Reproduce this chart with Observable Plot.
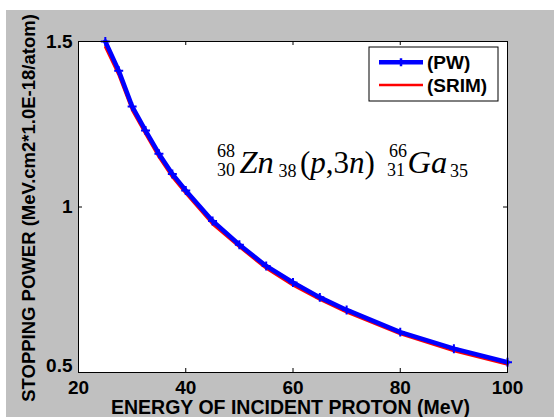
<!DOCTYPE html>
<html><head><meta charset="utf-8">
<script src="https://cdn.jsdelivr.net/npm/d3@7"></script>
<script src="https://cdn.jsdelivr.net/npm/@observablehq/plot@0.6"></script>
<style>
html,body{margin:0;padding:0;background:#fff;}
#wrap{padding:10px 0 0 6px;width:548px;height:407px;}
svg{display:block;}
</style></head><body><div id="wrap"></div>
<script>
// ---- data ----
const energy = [25, 27.5, 30, 32.5, 35, 37.5, 40, 45, 50, 55, 60, 65, 70, 80, 90, 100];
const pwValues = [1.500, 1.412, 1.304, 1.231, 1.161, 1.100, 1.050, 0.958, 0.886, 0.822, 0.772, 0.727, 0.689, 0.622, 0.572, 0.531];
const srimValues = [1.483, 1.398, 1.292, 1.220, 1.150, 1.090, 1.041, 0.948, 0.879, 0.814, 0.763, 0.720, 0.682, 0.616, 0.565, 0.524];
const seriesNames = ["(PW)", "(SRIM)"];
const seriesColors = ["#0000ff", "#ff0000"];
const xTicks = [20, 40, 60, 80, 100];
const yTicks = [0.5, 1, 1.5];
const xTitle = "ENERGY OF INCIDENT PROTON (MeV)";
const yTitle = "STOPPING POWER (MeV.cm2*1.0E-18/atom)";
const annoAnchor = [46, 1.10];

// ---- layout ----
const W = 548, H = 407, mL = 72, mT = 31, mR = 47, mB = 45;
const pW = W - mL - mR, pH = H - mT - mB;
const sans = "'Liberation Sans', Arial, sans-serif";
const serif = "'Liberation Serif', 'Times New Roman', serif";

const pwRows = energy.map((e, i) => ({e, v: pwValues[i]}));
const srimRows = energy.map((e, i) => ({e, v: srimValues[i]}));
const fmt = d => String(d);

const plot = Plot.plot({
  width: W, height: H, marginLeft: mL, marginTop: mT, marginRight: mR, marginBottom: mB,
  style: {background: "#c0c0c0", fontFamily: sans, fontWeight: "bold", fontSize: "19px", color: "black"},
  x: {domain: [xTicks[0], xTicks[xTicks.length - 1]]},
  y: {domain: [yTicks[0], yTicks[yTicks.length - 1]]},
  marks: [
    Plot.frame({fill: "white"}),
    Plot.axisX(xTicks, {tickSize: 0, tickPadding: 8, label: null, tickFormat: fmt, fontSize: 19, fontWeight: "bold"}),
    Plot.axisY(yTicks.slice(1), {tickSize: 0, tickPadding: 6, label: null, tickFormat: fmt, fontSize: 19, fontWeight: "bold"}),
    Plot.axisY(yTicks.slice(0, 1), {tickSize: 0, tickPadding: 6, label: null, tickFormat: fmt, fontSize: 19, fontWeight: "bold", dy: -7}),
    Plot.ruleX(xTicks.slice(1, -1), {x: d => d, insetTop: pH - 4, stroke: "black"}),
    Plot.ruleX(xTicks.slice(1, -1), {x: d => d, insetBottom: pH - 4, stroke: "black"}),
    Plot.ruleY(yTicks.slice(1, 2), {y: d => d, insetRight: pW - 4, stroke: "black"}),
    Plot.ruleY(yTicks.slice(1, 2), {y: d => d, insetLeft: pW - 4, stroke: "black"}),
    Plot.line(srimRows, {x: "e", y: "v", stroke: seriesColors[1], strokeWidth: 2.5}),
    Plot.line(pwRows, {x: "e", y: "v", stroke: seriesColors[0], strokeWidth: 4.5}),
    Plot.dot(pwRows, {x: "e", y: "v", symbol: "plus", r: 3, stroke: seriesColors[0], strokeWidth: 2}),
    Plot.frame({stroke: "black", strokeWidth: 1})
  ]
});
document.getElementById("wrap").appendChild(plot);

const svg = d3.select(plot);
const xs = d3.scaleLinear([xTicks[0], xTicks[xTicks.length - 1]], [mL, W - mR]);
const ys = d3.scaleLinear([yTicks[0], yTicks[yTicks.length - 1]], [H - mB, mT]);

// axis titles
svg.append("text").attr("x", (mL + W - mR) / 2 - 2).attr("y", H - 3)
  .attr("text-anchor", "middle").attr("font-family", sans).attr("font-weight", "bold")
  .attr("font-size", 19.5).attr("fill", "black").text(xTitle);
svg.append("text").attr("transform", `translate(28.5,${(mT + H - mB) / 2 + 1.5}) rotate(-90)`)
  .attr("text-anchor", "middle").attr("font-family", sans).attr("font-weight", "bold")
  .attr("font-size", 18.5).attr("fill", "black").text(yTitle);

// legend
const lg = svg.append("g");
const bx = W - mR - 138, by = mT + 6;
lg.append("rect").attr("x", bx).attr("y", by).attr("width", 129).attr("height", 54)
  .attr("fill", "white").attr("stroke", "black").attr("stroke-width", 1);
seriesNames.forEach((name, i) => {
  const yy = by + 15.3 + i * 22.7;
  lg.append("line").attr("x1", bx + 10).attr("x2", bx + 54).attr("y1", yy).attr("y2", yy)
    .attr("stroke", seriesColors[i]).attr("stroke-width", i === 0 ? 4.5 : 2.5);
  if (i === 0) {
    lg.append("path").attr("d", `M${bx + 28.5},${yy}h7M${bx + 32},${yy - 4}v8`)
      .attr("stroke", seriesColors[i]).attr("stroke-width", 2.5).attr("fill", "none");
  }
  lg.append("text").attr("x", bx + 58).attr("y", yy).attr("dy", "0.35em")
    .attr("text-anchor", "start")
    .attr("font-family", sans).attr("font-weight", "bold").attr("font-size", 19)
    .attr("fill", "black").text(name);
});

// reaction formula
const ax = xs(annoAnchor[0]), ay = ys(annoAnchor[1]);
const fg = svg.append("g").attr("font-family", serif).attr("fill", "black").attr("font-weight", "normal");
function piece(txt, dx, dy, size, anchor, italic) {
  return fg.append("text").attr("x", ax + dx).attr("y", ay + dy).attr("font-size", size)
    .attr("text-anchor", anchor).attr("font-style", italic ? "italic" : "normal").text(txt);
}
piece("68", 17.5, -16.5, 18, "end", false);
piece("30", 17.5, 2.5, 18, "end", false);
piece("Zn", 22, 0, 32.5, "start", true);
piece("38", 61, 3.5, 18, "start", false);
const rx = fg.append("text").attr("x", ax + 82.5).attr("y", ay).attr("font-size", 31)
  .attr("text-anchor", "start");
[["(", false], ["p", true], [",3", false], ["n", true], [")", false]].forEach(([t, it]) => {
  rx.append("tspan").attr("font-style", it ? "italic" : "normal").text(t);
});
piece("66", 189.5, -16.5, 18, "end", false);
piece("31", 187.5, 2.5, 18, "end", false);
piece("Ga", 190, 0, 32.5, "start", true);
piece("35", 232.5, 3.5, 18, "start", false);
</script>
</body></html>
